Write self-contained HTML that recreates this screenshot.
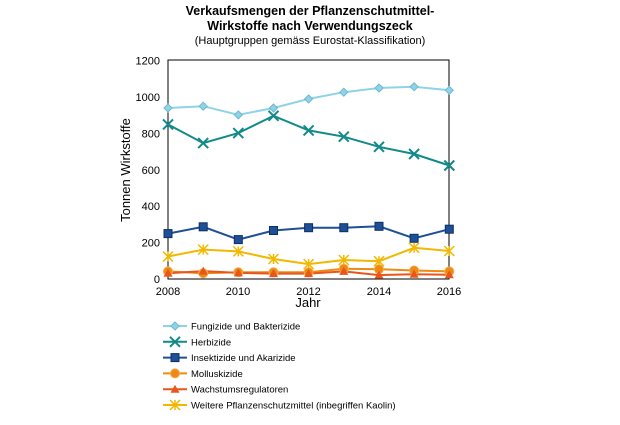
<!DOCTYPE html><html><head><style>body{margin:0;background:#fff}svg{font-family:"Liberation Sans",sans-serif}</style></head><body>
<svg width="620" height="420" xmlns="http://www.w3.org/2000/svg" xmlns:xlink="http://www.w3.org/1999/xlink">
<defs>
<path id="md" d="M0 -4L4 0L0 4L-4 0Z" fill="#8fd3e8" stroke="#6fb8d0" stroke-width="1"/>
<path id="mx" d="M-5 -5L5 5M-5 5L5 -5" stroke="#138a8a" stroke-width="2" fill="none"/>
<rect id="ms" x="-4" y="-4" width="8" height="8" fill="#1f4f94" stroke="#0d2f66" stroke-width="1"/>
<path id="ma" d="M-5 -5L5 5M-5 5L5 -5M0 -5V5" stroke="#f2b800" stroke-width="1.5" fill="none"/>
<circle id="mo" r="4.5" fill="#ec8a12" stroke="#f7a94a" stroke-width="1"/>
<path id="mt" d="M0 -4.5L4.5 3.5L-4.5 3.5Z" fill="#e8561c"/>
</defs>
<text x="310" y="15" text-anchor="middle" font-size="12.5" font-weight="bold">Verkaufsmengen der Pflanzenschutmittel-</text>
<text x="310" y="30" text-anchor="middle" font-size="12.5" font-weight="bold">Wirkstoffe nach Verwendungszeck</text>
<text x="310" y="44" text-anchor="middle" font-size="11">(Hauptgruppen gemäss Eurostat-Klassifikation)</text>
<rect x="168" y="60" width="281" height="219" fill="none" stroke="#000" stroke-width="1"/>
<g font-size="11" text-anchor="end">
<text x="160" y="283">0</text><text x="160" y="246.6">200</text><text x="160" y="210.2">400</text><text x="160" y="173.8">600</text><text x="160" y="137.4">800</text><text x="160" y="101">1000</text><text x="160" y="64.6">1200</text></g>
<g font-size="11" text-anchor="middle">
<text x="168" y="295">2008</text><text x="238" y="295">2010</text><text x="308.5" y="295">2012</text><text x="379" y="295">2014</text><text x="449" y="295">2016</text></g>
<text x="308" y="307" text-anchor="middle" font-size="13">Jahr</text>
<text transform="translate(130,170) rotate(-90)" text-anchor="middle" font-size="13">Tonnen Wirkstoffe</text>
<g fill="none" stroke-width="2">
<polyline stroke="#8fd3e8" points="168,108 203.2,106.2 238.3,114.9 273.5,108 308.6,98.9 343.8,92.2 379,88 414.1,86.7 449.3,90.3"/>
<polyline stroke="#138a8a" points="168,124.4 203.2,143.1 238.3,133.1 273.5,115.8 308.6,130.4 343.8,136.7 379,146.8 414.1,154 449.3,165.5"/>
<polyline stroke="#1f4f94" points="168,233.6 203.2,226.8 238.3,239.6 273.5,230.5 308.6,227.7 343.8,227.7 379,226.3 414.1,238.3 449.3,229.2"/>
<polyline stroke="#f2b800" points="168,256.5 203.2,249.6 238.3,251.4 273.5,259 308.6,264.1 343.8,260 379,261.2 414.1,247.8 449.3,251"/>
<polyline stroke="#ec8a12" points="168,271.4 203.2,273.2 238.3,272.3 273.5,272.3 308.6,272.3 343.8,268.7 379,269.2 414.1,270.5 449.3,271.4"/>
<polyline stroke="#e8561c" points="168,273.2 203.2,271.1 238.3,272.9 273.5,273.6 308.6,273.6 343.8,271.4 379,275.1 414.1,274.2 449.3,274.7"/>
</g>
<use xlink:href="#md" x="168" y="108"/><use xlink:href="#md" x="203.2" y="106.2"/><use xlink:href="#md" x="238.3" y="114.9"/><use xlink:href="#md" x="273.5" y="108"/><use xlink:href="#md" x="308.6" y="98.9"/><use xlink:href="#md" x="343.8" y="92.2"/><use xlink:href="#md" x="379" y="88"/><use xlink:href="#md" x="414.1" y="86.7"/><use xlink:href="#md" x="449.3" y="90.3"/>
<use xlink:href="#mx" x="168" y="124.4"/><use xlink:href="#mx" x="203.2" y="143.1"/><use xlink:href="#mx" x="238.3" y="133.1"/><use xlink:href="#mx" x="273.5" y="115.8"/><use xlink:href="#mx" x="308.6" y="130.4"/><use xlink:href="#mx" x="343.8" y="136.7"/><use xlink:href="#mx" x="379" y="146.8"/><use xlink:href="#mx" x="414.1" y="154"/><use xlink:href="#mx" x="449.3" y="165.5"/>
<use xlink:href="#ms" x="168" y="233.6"/><use xlink:href="#ms" x="203.2" y="226.8"/><use xlink:href="#ms" x="238.3" y="239.6"/><use xlink:href="#ms" x="273.5" y="230.5"/><use xlink:href="#ms" x="308.6" y="227.7"/><use xlink:href="#ms" x="343.8" y="227.7"/><use xlink:href="#ms" x="379" y="226.3"/><use xlink:href="#ms" x="414.1" y="238.3"/><use xlink:href="#ms" x="449.3" y="229.2"/>
<use xlink:href="#ma" x="168" y="256.5"/><use xlink:href="#ma" x="203.2" y="249.6"/><use xlink:href="#ma" x="238.3" y="251.4"/><use xlink:href="#ma" x="273.5" y="259"/><use xlink:href="#ma" x="308.6" y="264.1"/><use xlink:href="#ma" x="343.8" y="260"/><use xlink:href="#ma" x="379" y="261.2"/><use xlink:href="#ma" x="414.1" y="247.8"/><use xlink:href="#ma" x="449.3" y="251"/>
<use xlink:href="#mo" x="168" y="271.4"/><use xlink:href="#mo" x="203.2" y="273.2"/><use xlink:href="#mo" x="238.3" y="272.3"/><use xlink:href="#mo" x="273.5" y="272.3"/><use xlink:href="#mo" x="308.6" y="272.3"/><use xlink:href="#mo" x="343.8" y="268.7"/><use xlink:href="#mo" x="379" y="269.2"/><use xlink:href="#mo" x="414.1" y="270.5"/><use xlink:href="#mo" x="449.3" y="271.4"/>
<use xlink:href="#mt" x="168" y="273.2"/><use xlink:href="#mt" x="203.2" y="271.1"/><use xlink:href="#mt" x="238.3" y="272.9"/><use xlink:href="#mt" x="273.5" y="273.6"/><use xlink:href="#mt" x="308.6" y="273.6"/><use xlink:href="#mt" x="343.8" y="271.4"/><use xlink:href="#mt" x="379" y="275.1"/><use xlink:href="#mt" x="414.1" y="274.2"/><use xlink:href="#mt" x="449.3" y="274.7"/>
<g stroke-width="2">
<line x1="163" x2="187" y1="326" y2="326" stroke="#8fd3e8"/>
<line x1="163" x2="187" y1="341.8" y2="341.8" stroke="#138a8a"/>
<line x1="163" x2="187" y1="357.6" y2="357.6" stroke="#1f4f94"/>
<line x1="163" x2="187" y1="373.4" y2="373.4" stroke="#ec8a12"/>
<line x1="163" x2="187" y1="389.2" y2="389.2" stroke="#e8561c"/>
<line x1="163" x2="187" y1="405" y2="405" stroke="#f2b800"/>
</g>
<use xlink:href="#md" x="175" y="326"/><use xlink:href="#mx" x="175" y="341.8"/><use xlink:href="#ms" x="175" y="357.6"/><use xlink:href="#mo" x="175" y="373.4"/><use xlink:href="#mt" x="175" y="389.2"/><use xlink:href="#ma" x="175" y="405"/>
<g font-size="9.5">
<text x="191" y="329.5">Fungizide und Bakterizide</text>
<text x="191" y="345.3">Herbizide</text>
<text x="191" y="361.1">Insektizide und Akarizide</text>
<text x="191" y="376.9">Molluskizide</text>
<text x="191" y="392.7">Wachstumsregulatoren</text>
<text x="191" y="408.5">Weitere Pflanzenschutzmittel (inbegriffen Kaolin)</text>
</g>
</svg></body></html>
